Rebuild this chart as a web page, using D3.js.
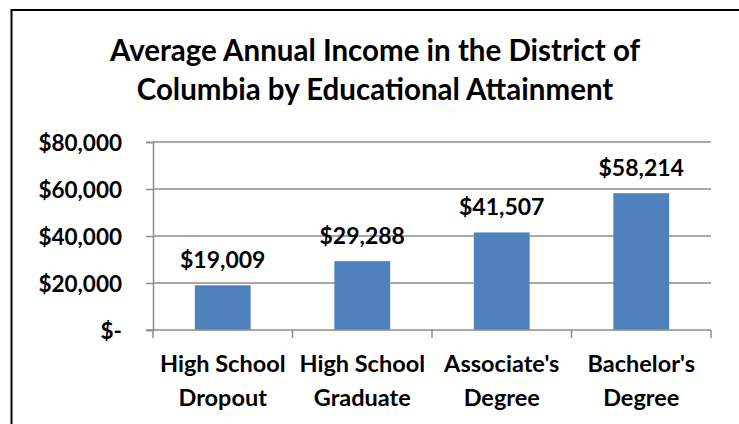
<!DOCTYPE html>
<html>
<head>
<meta charset="utf-8">
<script src="https://cdn.jsdelivr.net/npm/d3@7/dist/d3.min.js"></script>
<style>
  html, body { margin: 0; padding: 0; background: #fff; }
  svg { display: block; }
  text { font-family: Lato, "Open Sans", sans-serif; font-weight: bold; fill: #000; }
</style>
</head>
<body>
<svg id="chart" width="739" height="424"></svg>
<script>
const categories = [["High School", "Dropout"], ["High School", "Graduate"], ["Associate's", "Degree"], ["Bachelor's", "Degree"]];
const values = [19009, 29288, 41507, 58214];
const yTicks = [0, 20000, 40000, 60000, 80000];
const titleLines = ["Average Annual Income in the District of", "Columbia by Educational Attainment"];

const W = 739, H = 424;
const svg = d3.select("#chart");

// outer frame (only left and top edges visible in the reference)
svg.append("rect").attr("x", 11.5).attr("y", 10).attr("width", 760).attr("height", 460)
  .attr("fill", "#fff").attr("stroke", "#000").attr("stroke-width", 2);

const margin = { left: 153, right: 28, top: 142, bottom: 94 };
const x = d3.scaleBand().domain(d3.range(categories.length))
  .range([margin.left, W - margin.right]).paddingInner(0.6).paddingOuter(0.3);
const xb = d3.scaleBand().domain(d3.range(categories.length))
  .range([margin.left, W - margin.right]);
const y = d3.scaleLinear().domain([0, 80000]).range([H - margin.bottom, margin.top]);

// title
svg.append("text").attr("x", 375).attr("y", 61).attr("text-anchor", "middle")
  .style("font-size", "29.5px")
  .selectAll("tspan").data(titleLines).join("tspan")
  .attr("x", 375).attr("dy", (d, i) => i === 0 ? 0 : 39).text(d => d);

// gridlines
svg.append("g").selectAll("line").data(yTicks.filter(d => d > 0)).join("line")
  .attr("x1", margin.left).attr("x2", W - margin.right)
  .attr("y1", d => y(d)).attr("y2", d => y(d))
  .attr("stroke", "#8c8c8c").attr("stroke-width", 1.5);

// y axis
const yAxis = d3.axisLeft(y).tickValues(yTicks).tickSize(7).tickPadding(24)
  .tickFormat(d => d === 0 ? "$-" : "$" + d3.format(",")(d));
const gy = svg.append("g").attr("transform", `translate(${margin.left},0)`).call(yAxis);
gy.select(".domain").attr("stroke", "#8c8c8c").attr("stroke-width", 1.5);
gy.selectAll(".tick line").attr("stroke", "#8c8c8c").attr("stroke-width", 1.5);
gy.selectAll(".tick text").style("font-size", "22.5px").attr("dy", "0.36em");
gy.attr("font-family", null).attr("font-size", null);

// bars
svg.append("g").selectAll("rect").data(values).join("rect")
  .attr("x", (d, i) => x(i)).attr("width", x.bandwidth())
  .attr("y", d => y(d)).attr("height", d => y(0) - y(d))
  .attr("fill", "#4F81BD");

// value labels
svg.append("g").selectAll("text").data(values).join("text")
  .attr("x", (d, i) => x(i) + x.bandwidth() / 2)
  .attr("y", d => y(d) - 17)
  .attr("text-anchor", "middle").style("font-size", "23px")
  .text(d => "$" + d3.format(",")(d));

// x axis
const xAxis = d3.axisBottom(xb).tickSize(0).tickFormat("");
const gx = svg.append("g").attr("transform", `translate(0,${y(0)})`).call(xAxis);
gx.select(".domain").attr("stroke", "#8c8c8c").attr("stroke-width", 1.5)
  .attr("d", `M${margin.left - 7},0H${W - margin.right}`);
gx.append("g").selectAll("line").data(d3.range(categories.length + 1)).join("line")
  .attr("x1", i => i < categories.length ? xb(i) : xb(i - 1) + xb.bandwidth())
  .attr("x2", i => i < categories.length ? xb(i) : xb(i - 1) + xb.bandwidth())
  .attr("y1", 0).attr("y2", 8).attr("stroke", "#8c8c8c").attr("stroke-width", 1.5);

// category labels
const cl = svg.append("g").selectAll("text").data(categories).join("text")
  .attr("text-anchor", "middle").style("font-size", "23.5px")
  .attr("y", y(0) + 42);
cl.selectAll("tspan").data(d => d).join("tspan")
  .attr("x", function () { const i = categories.indexOf(d3.select(this.parentNode).datum()); return xb(i) + xb.bandwidth() / 2; })
  .attr("dy", (d, i) => i === 0 ? 0 : 34).text(d => d);
</script>
</body>
</html>
